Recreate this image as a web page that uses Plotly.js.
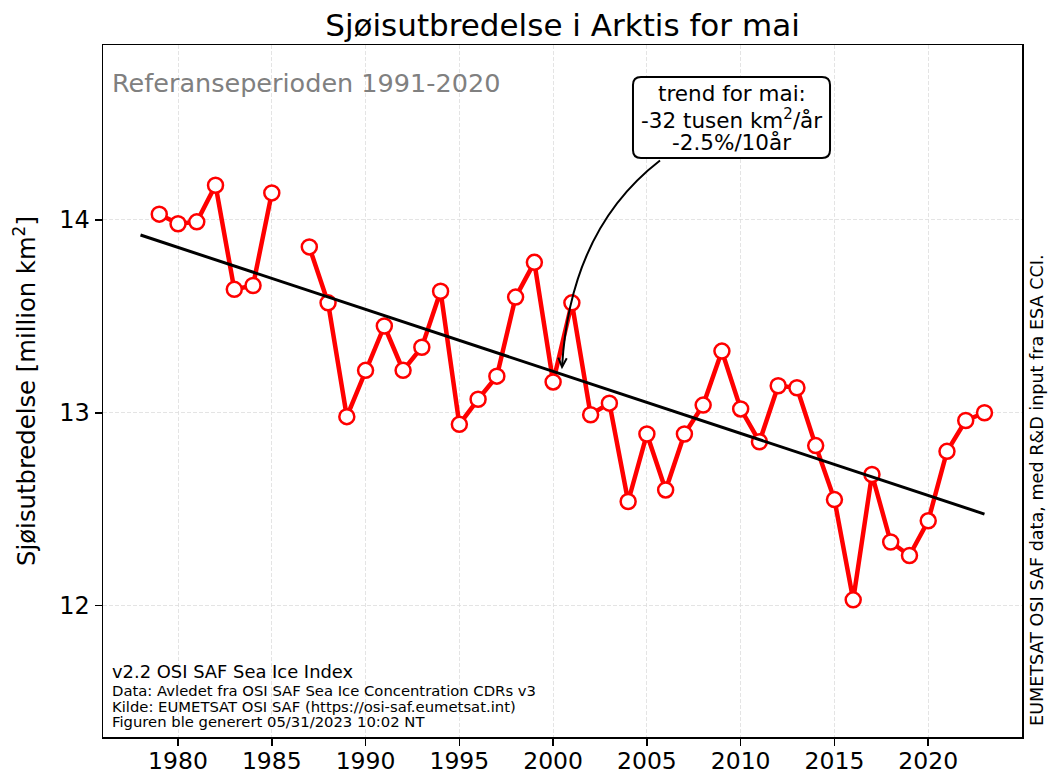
<!DOCTYPE html>
<html>
<head>
<meta charset="utf-8">
<script src="https://cdn.plot.ly/plotly-3.0.1.min.js"></script>
<style>html,body{margin:0;padding:0;background:#fff;}#chart{width:1049px;height:778px;}</style>
</head>
<body>
<div id="chart"></div>
<script>
// Data: Arctic sea ice extent in May (million km²), 1986 missing
const years = [1979,1980,1981,1982,1983,1984,1985,1986,1987,1988,1989,1990,1991,1992,1993,1994,1995,1996,1997,1998,1999,2000,2001,2002,2003,2004,2005,2006,2007,2008,2009,2010,2011,2012,2013,2014,2015,2016,2017,2018,2019,2020,2021,2022,2023];
const extent = [14.03,13.98,13.99,14.18,13.64,13.66,14.14,null,13.86,13.57,12.98,13.22,13.45,13.22,13.34,13.63,12.94,13.07,13.19,13.60,13.78,13.16,13.57,12.99,13.05,12.54,12.89,12.60,12.89,13.04,13.32,13.02,12.85,13.14,13.13,12.83,12.55,12.03,12.68,12.33,12.26,12.44,12.80,12.96,13.00];
const trendYears = [1978, 2023];
const xTicks = [1980,1985,1990,1995,2000,2005,2010,2015,2020];
const yTicks = [12,13,14];
const trendLines = ['trend for mai:', '-32 tusen km<sup>2</sup>/år', '-2.5%/10år'];
const footLines = ['Data: Avledet fra OSI SAF Sea Ice Concentration CDRs v3',
                   'Kilde: EUMETSAT OSI SAF (https://osi-saf.eumetsat.int)',
                   'Figuren ble generert 05/31/2023 10:02 NT'];

// least squares trend from the data
const pts = years.map((y,i)=>[y,extent[i]]).filter(p=>p[1]!==null);
const n = pts.length;
const mx = pts.reduce((s,p)=>s+p[0],0)/n, my = pts.reduce((s,p)=>s+p[1],0)/n;
let sxy=0, sxx=0;
pts.forEach(p=>{sxy+=(p[0]-mx)*(p[1]-my); sxx+=(p[0]-mx)*(p[0]-mx);});
const slope = sxy/sxx, icpt = my - slope*mx;
const trendVals = trendYears.map(y=>icpt+slope*y);

const font = "DejaVu Sans, Verdana, sans-serif";

const traces = [
  {x: years, y: extent, type:'scatter', mode:'lines+markers', connectgaps:false,
   line:{color:'#ff0000', width:4.5},
   marker:{size:15, color:'#ffffff', line:{color:'#ff0000', width:2.5}},
   hoverinfo:'x+y', showlegend:false},
  {x: trendYears, y: trendVals, type:'scatter', mode:'lines',
   line:{color:'#000000', width:3}, showlegend:false, hoverinfo:'skip'}
];

// rounded box for the trend annotation (paper coords)
const bx0=0.5767, bx1=0.7911, by0=0.8367, by1=0.9538, rx=0.0087, ry=0.0116;
const boxPath = `M ${bx0+rx} ${by0} L ${bx1-rx} ${by0} Q ${bx1} ${by0} ${bx1} ${by0+ry} L ${bx1} ${by1-ry} Q ${bx1} ${by1} ${bx1-rx} ${by1} L ${bx0+rx} ${by1} Q ${bx0} ${by1} ${bx0} ${by1-ry} L ${bx0} ${by0+ry} Q ${bx0} ${by0} ${bx0+rx} ${by0} Z`;

const annotations = [
  {xref:'paper', yref:'paper', x:0.0075, y:0.945, xanchor:'left', yanchor:'middle', showarrow:false,
   text:'Referanseperioden 1991-2020', font:{family:font, size:25.5, color:'#808080'}},
  {xref:'paper', yref:'paper', x:0.0075, y:0.0947, xanchor:'left', yanchor:'middle', showarrow:false,
   text:'v2.2 OSI SAF Sea Ice Index', font:{family:font, size:17.9, color:'#000'}},
  {xref:'paper', yref:'paper', x:1.0163, y:0.357, xanchor:'center', yanchor:'middle', showarrow:false, textangle:-90,
   text:'EUMETSAT OSI SAF data, med R&D input fra ESA CCI.', font:{family:font, size:17.6, color:'#000'}}
];
const trendY = [0.9306, 0.8931, 0.8584];
trendLines.forEach((t,i)=>annotations.push({xref:'paper', yref:'paper', x:0.6839, y:trendY[i], xanchor:'center', yanchor:'middle',
  showarrow:false, text:t, font:{family:font, size:21.5, color:'#000'}}));
const footY = [0.0679, 0.0441, 0.0217];
footLines.forEach((t,i)=>annotations.push({xref:'paper', yref:'paper', x:0.0075, y:footY[i], xanchor:'left', yanchor:'middle',
  showarrow:false, text:t, font:{family:font, size:14.8, color:'#000'}}));

const layout = {
  width:1049, height:778,
  margin:{l:103, r:27, t:45, b:41},
  paper_bgcolor:'#ffffff', plot_bgcolor:'#ffffff',
  font:{family:font, color:'#000'},
  title:{text:'Sjøisutbredelse i Arktis for mai', font:{family:font, size:31, color:'#000'},
         x:0.5, xref:'paper', xanchor:'center', y:0.968, yref:'container', yanchor:'middle'},
  xaxis:{range:[1976,2025], tickvals:xTicks, ticktext:xTicks.map(String),
         showgrid:true, gridcolor:'#dddddd', griddash:'4px,2px', gridwidth:0.8,
         showline:true, mirror:true, linecolor:'#000', linewidth:1.5,
         ticks:'outside', ticklen:7, tickwidth:1.5, tickcolor:'#000',
         ticklabelstandoff:-5,
         tickfont:{family:font, size:23.5, color:'#000'}, zeroline:false},
  yaxis:{range:[11.319,14.907], tickvals:yTicks, ticktext:yTicks.map(String),
         showgrid:true, gridcolor:'#dddddd', griddash:'4px,2px', gridwidth:0.8,
         showline:true, mirror:true, linecolor:'#000', linewidth:1.5,
         ticks:'outside', ticklen:7, tickwidth:1.5, tickcolor:'#000',
         tickfont:{family:font, size:24, color:'#000'}, zeroline:false,
         title:{text:'Sjøisutbredelse [million km<sup>2</sup>]', font:{family:font, size:24.3, color:'#000'}, standoff:16}},
  shapes:[
    {type:'path', xref:'paper', yref:'paper', path: boxPath,
     fillcolor:'#ffffff', line:{color:'#000', width:2}, layer:'above'},
    {type:'path', xref:'paper', yref:'paper',
     path:'M 0.6061 0.8330 Q 0.5082 0.7327 0.4995 0.5347',
     line:{color:'#000', width:2}},
    {type:'path', xref:'paper', yref:'paper',
     path:'M 0.5046 0.5474 L 0.4995 0.5347 L 0.4954 0.5481',
     line:{color:'#000', width:2}}
  ],
  annotations: annotations
};

Plotly.newPlot('chart', traces, layout, {displayModeBar:false, staticPlot:true});
</script>
</body>
</html>
